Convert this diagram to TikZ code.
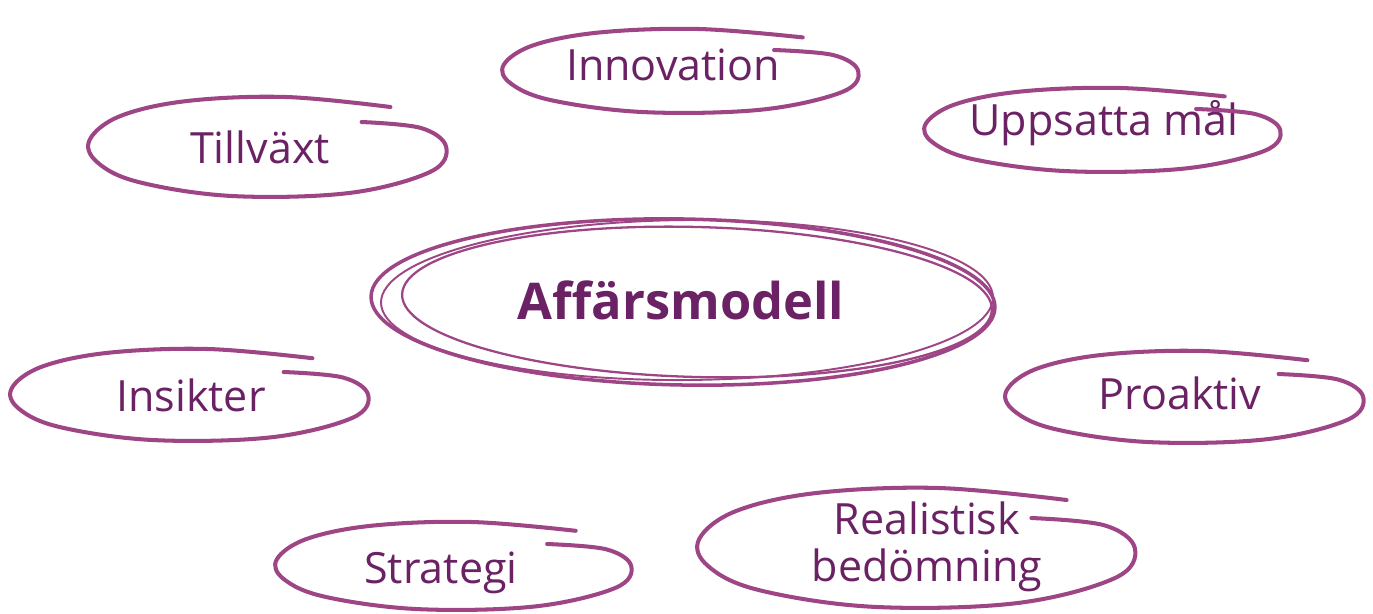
\documentclass[tikz,border=0pt]{standalone}
\usepackage{fontspec}
\setmainfont{Open Sans}
\usetikzlibrary{calc}

\definecolor{wordpurple}{HTML}{6B2264}
\definecolor{ringpurple}{HTML}{9E4585}

\tikzset{
    ring/.style={ringpurple, line width=2.3pt, line cap=round, line join=round},
    word/.style={text=wordpurple, font=\fontsize{24.5}{27}\selectfont, align=center, inner sep=0pt},
    hub/.style={word, font=\fontsize{28.8}{30}\selectfont\bfseries}
}

% loose hand-drawn loop around a word: node, offset, half width, half height
\newcommand{\sketchring}[5][ring]{%
    \begin{scope}[shift={($(#2)+(#3)$)}, xscale=#4, yscale=#5]
        \draw[#1] plot[smooth, tension=0.6] coordinates {(0.68,-0.8) (0.1,-1) (-0.45,-0.92)
            (-0.82,-0.62) (-0.99,-0.15) (-0.95,0.3) (-0.72,0.7) (-0.2,0.98) (0.45,0.92)
            (0.9,0.5) (0.99,0.0) (0.85,-0.38) (0.52,-0.5)};
    \end{scope}}

\begin{document}
\begin{tikzpicture}[x=0.02cm, y=-0.02cm]
    \useasboundingbox (0,0) rectangle (1373,613);

    \node[hub]  (hub)   at (681,300) {Affärsmodell};
    \node[word] (innov) at (673,65)  {Innovation};
    \node[word] (grow)  at (260,147) {Tillväxt};
    \node[word] (goals) at (1104,123) {Uppsatta mål};
    \node[word] (insig) at (191,395) {Insikter};
    \node[word] (proac) at (1180,393) {Proaktiv};
    \node[word] (strat) at (441,573) {Strategi};
    \node[word] (real)  at (927,547) {Realistisk\\bedömning};

    \sketchring{innov}{8,6}{179}{42}
    \sketchring{grow}{8,0}{180}{50}
    \sketchring{goals}{-1,7}{179}{42}
    \sketchring{insig}{-1,0}{180}{46}
    \sketchring{proac}{5,4}{180}{46}
    \sketchring{strat}{13,-7}{179}{44}
    \sketchring{real}{-10,1}{220}{60}

    % the centre word gets a doubled loop
    \draw[ring, line width=2pt] ($(hub)+(2,2)$) ellipse [x radius=312, y radius=83, rotate=-1];
    \draw[ring, line width=1.3pt] ($(hub)+(16,2)$) ellipse [x radius=295, y radius=75, rotate=-1.5];
    \draw[ring, line width=1.1pt] ($(hub)+(6,0)$) ellipse [x radius=306, y radius=80, rotate=0.5];
\end{tikzpicture}
\end{document}
